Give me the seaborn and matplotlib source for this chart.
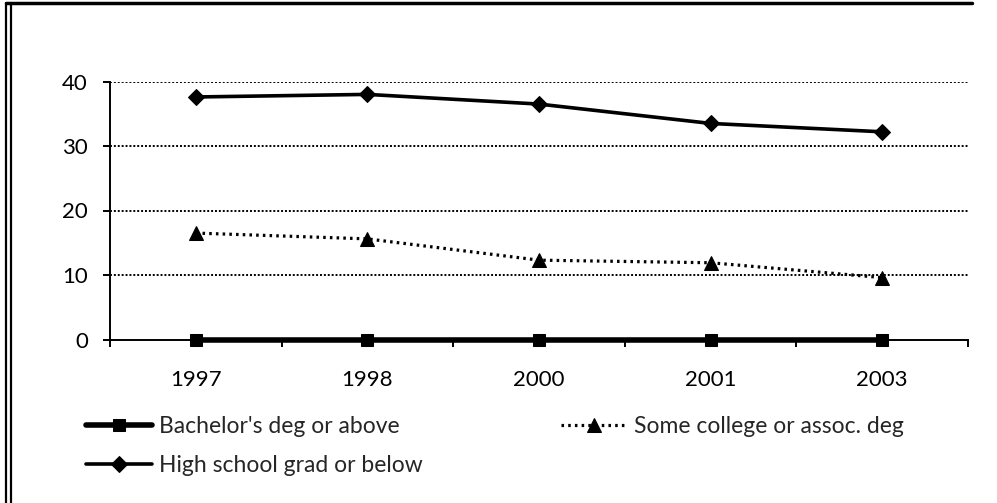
import matplotlib
matplotlib.use("Agg")
import matplotlib.pyplot as plt
from matplotlib.lines import Line2D
import numpy as np
import pandas as pd
import seaborn as sns

years = ["1997", "1998", "2000", "2001", "2003"]
bachelors = [0, 0, 0, 0, 0]
some_college = [16.5, 15.6, 12.3, 11.9, 9.6]
high_school = [37.6, 38.0, 36.5, 33.5, 32.2]

label_ba = "Bachelor's deg or above"
label_sc = "Some college or assoc. deg"
label_hs = "High school grad or below"

sns.set_theme(style="white")
plt.rcParams["font.family"] = ["Lato", "DejaVu Sans"]

W, H, DPI = 997, 503, 100
fig = plt.figure(figsize=(W / DPI, H / DPI), dpi=DPI)
fig.patch.set_facecolor("white")

x0, x1 = 110, 968
y_top, y_bot = 81.5, 339.5
ax = fig.add_axes([x0 / W, 1 - y_bot / H, (x1 - x0) / W, (y_bot - y_top) / H])
ax.set_facecolor("white")

df = pd.DataFrame({"year": years, "ba": bachelors, "sc": some_college, "hs": high_school})

sns.lineplot(data=df, x="year", y="ba", ax=ax, color="black", linewidth=4,
             marker="s", markersize=9, markeredgecolor="black", sort=False,
             label=label_ba, clip_on=False, zorder=5)
sns.lineplot(data=df, x="year", y="hs", ax=ax, color="black", linewidth=2.6,
             marker="D", markersize=8.5, markeredgecolor="black", sort=False,
             label=label_hs, zorder=4)
sns.lineplot(data=df, x="year", y="sc", ax=ax, color="black", linewidth=2.3,
             linestyle=(0, (0.8, 1.3)), marker="^", markersize=9.5,
             markeredgecolor="black", sort=False, label=label_sc, zorder=4)

ax.set_xlim(-0.5, len(years) - 0.5)
ax.set_ylim(0, 40)
ax.set_yticks([0, 10, 20, 30, 40])
ax.set_xlabel("")
ax.set_ylabel("")

# dotted gridlines across the plot area
for v in [10, 20, 30, 40]:
    ax.axhline(v, color="black", linestyle=(0, (1, 1)), linewidth=1.4, zorder=1)

for side in ["top", "right"]:
    ax.spines[side].set_visible(False)
for side in ["left", "bottom"]:
    ax.spines[side].set_color("black")
    ax.spines[side].set_linewidth(1.4)

ax.tick_params(axis="y", which="major", direction="out", length=5, width=1.4,
               color="black", pad=11, labelsize=16, labelcolor="black", left=True)
ax.tick_params(axis="x", which="major", length=0, pad=22, labelsize=16,
               labelcolor="black")
ax.set_xticks(np.arange(-0.5, len(years), 1.0), minor=True)
ax.tick_params(axis="x", which="minor", direction="out", length=5, width=1.4,
               color="black", bottom=True)

handles, labels = ax.get_legend_handles_labels()
order = [labels.index(label_ba), labels.index(label_hs), labels.index(label_sc)]
leg = fig.legend([handles[i] for i in order], [labels[i] for i in order],
                 loc="upper left", bbox_to_anchor=(86 / W, 1 - 416 / H),
                 ncol=2, frameon=False, fontsize=16.5, handlelength=2.9,
                 handletextpad=0.3, columnspacing=6.0, labelspacing=0.78,
                 borderaxespad=0, borderpad=0)
if ax.get_legend():
    ax.get_legend().remove()

# frame lines of the chart box
fig.add_artist(Line2D([6 / W, 972 / W], [1 - 3 / H, 1 - 3 / H], color="black",
                      linewidth=2.5, transform=fig.transFigure))
fig.add_artist(Line2D([6 / W, 6 / W], [0, 1 - 3 / H], color="black",
                      linewidth=1.6, transform=fig.transFigure))
fig.add_artist(Line2D([11 / W, 11 / W], [0, 1 - 3 / H], color="black",
                      linewidth=1.6, transform=fig.transFigure))

fig.savefig("out.png", dpi=DPI, facecolor="white")
